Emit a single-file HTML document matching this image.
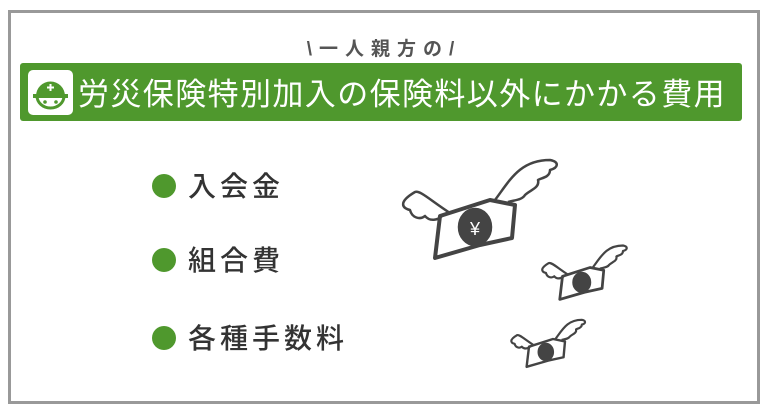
<html><head><style>
body{margin:0;width:768px;height:411px;background:#fff;position:relative;font-family:"Liberation Sans","Noto Sans CJK JP",sans-serif;overflow:hidden}
.box{position:absolute;left:8px;top:10px;width:746px;height:388px;border:3px solid #999}
.t{position:absolute;left:0;width:768px;top:34px;text-align:center;font-size:19px;font-weight:bold;color:#555;letter-spacing:7px}
.ban{position:absolute;left:20px;top:63px;width:722px;height:58px;background:#4f982d;border-radius:3px}
.ic{position:absolute;left:28px;top:70px;width:45px;height:45px;background:#fff;border-radius:5px}
.bt{position:absolute;left:78px;top:69px;font-size:31px;color:#fff;white-space:nowrap;letter-spacing:1.4px}
.li{position:absolute;left:152px;font-size:28px;color:#333;white-space:nowrap;letter-spacing:4px;font-weight:500}
.li:before{content:"";display:inline-block;width:24px;height:24px;border-radius:50%;background:#4f982d;margin-right:12px;vertical-align:-2px}
</style></head><body>
<div class="box"></div>
<div class="t">\一人親方の/</div>
<div class="ban"></div>
<div class="ic"><svg width="45" height="45"><path d="M8 26 A14.5 14.5 0 0 1 37 26 Z" fill="#4f982d"/><path d="M9 26 L36 26 A13.5 12 0 0 1 9 26Z" fill="none" stroke="#4f982d" stroke-width="3"/><rect x="5" y="24" width="35" height="4" fill="#4f982d"/><path d="M22.5 14v7M19 17.5h7" stroke="#fff" stroke-width="2"/><circle cx="17" cy="32" r="1.8" fill="#4f982d"/><circle cx="28" cy="32" r="1.8" fill="#4f982d"/></svg></div>
<div class="bt">労災保険特別加入の保険料以外にかかる費用</div>
<div class="li" style="top:165px">入会金</div>
<div class="li" style="top:239px">組合費</div>
<div class="li" style="top:317px">各種手数料</div>
<svg width="768" height="411" style="position:absolute;left:0;top:0" fill="none" stroke="#444" stroke-width="2.5" stroke-linejoin="round">
<g transform="translate(390,150)">
<path d="M50 66 L100 50 L125 55 L122 88 L90 95 L45 108 Z" fill="#fff" stroke-width="4"/>
<ellipse cx="85" cy="77" rx="16" ry="18" fill="#444"/>
<text x="85" y="85" font-size="18" fill="#fff" stroke="none" text-anchor="middle">¥</text>
<path d="M60 63 C40 50 30 40 25 42 C8 52 12 58 20 60 C22 68 30 70 35 66 C40 72 48 70 52 66"/>
<path d="M105 50 C120 30 130 10 160 10 C170 12 168 18 160 20 C160 28 150 28 148 30 C150 38 140 40 135 45 C132 50 125 50 118 52"/>
</g>
<g transform="translate(535,240) scale(0.55)">
<path d="M50 66 L100 50 L125 55 L122 88 L90 95 L45 108 Z" fill="#fff" stroke-width="5"/>
<ellipse cx="85" cy="77" rx="16" ry="18" fill="#444"/>
<path d="M60 63 C40 50 30 40 25 42 C8 52 12 58 20 60 C22 68 30 70 35 66 C40 72 48 70 52 66" stroke-width="4"/>
<path d="M105 50 C120 30 130 10 160 10 C170 12 168 18 160 20 C160 28 150 28 148 30 C150 38 140 40 135 45 C132 50 125 50 118 52" stroke-width="4"/>
</g>
<g transform="translate(505,315) scale(0.48)">
<path d="M50 66 L100 50 L125 55 L122 88 L90 95 L45 108 Z" fill="#fff" stroke-width="5"/>
<ellipse cx="85" cy="77" rx="16" ry="18" fill="#444"/>
<path d="M60 63 C40 50 30 40 25 42 C8 52 12 58 20 60 C22 68 30 70 35 66 C40 72 48 70 52 66" stroke-width="4.5"/>
<path d="M105 50 C120 30 130 10 160 10 C170 12 168 18 160 20 C160 28 150 28 148 30 C150 38 140 40 135 45 C132 50 125 50 118 52" stroke-width="4.5"/>
</g>
</svg>
</body></html>
